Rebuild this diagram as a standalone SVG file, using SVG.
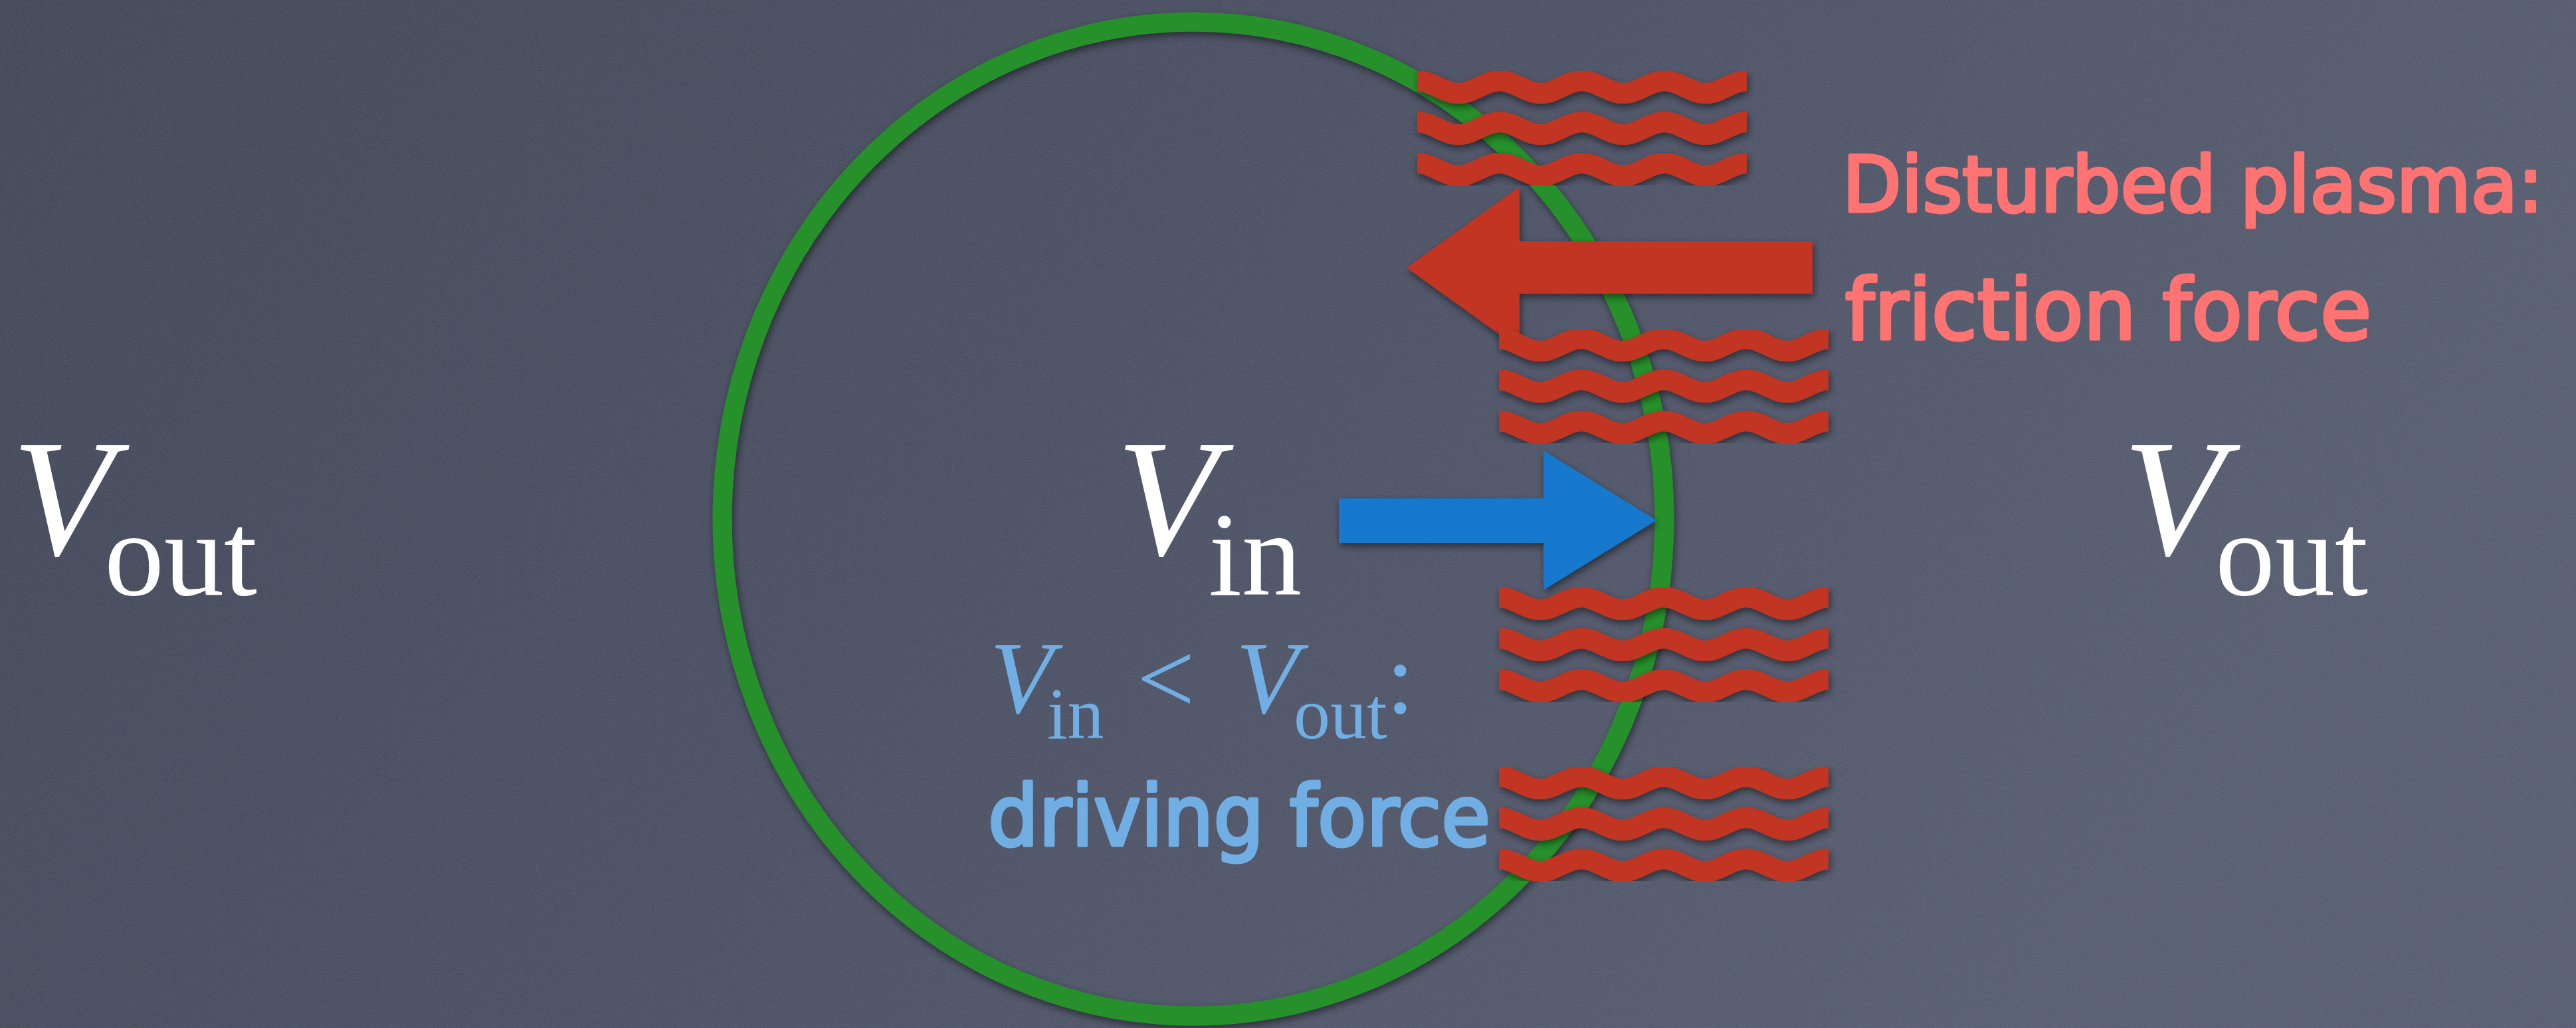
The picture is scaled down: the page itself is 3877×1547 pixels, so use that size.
<svg xmlns="http://www.w3.org/2000/svg" xmlns:xlink="http://www.w3.org/1999/xlink" width="3877" height="1547" viewBox="0 0 3877 1547">
<defs>
<style>
.serif{font-family:"Liberation Serif","Times New Roman",serif;}
.it{font-style:italic;}
.hand{font-family:"DejaVu Sans","Noto Sans",sans-serif;font-size:126px;stroke-width:5;stroke-linejoin:round;}
.white{fill:#ffffff;}
.pink{fill:#FF7373;stroke:#FF7373;}
.lblue{fill:#70AEE4;}
.hand.lblue{stroke:#70AEE4;}
.wave{fill:none;stroke:#C13622;stroke-width:31;stroke-linecap:butt;}
.red{fill:#C13622;}
.blue{fill:#1379CD;}
</style>
<linearGradient id="bg" x1="0" y1="0" x2="1" y2="0.3">
<stop offset="0" stop-color="#414757"/>
<stop offset="0.5" stop-color="#4A5063"/>
<stop offset="1" stop-color="#565D6F"/>
</linearGradient>
<filter id="noise" x="0" y="0" width="100%" height="100%">
<feTurbulence type="fractalNoise" baseFrequency="0.8" numOctaves="2" seed="7" result="t"/>
<feColorMatrix in="t" type="matrix" values="0 0 0 0 1  0 0 0 0 1  0 0 0 0 1  0.4 0 0 0 -0.13"/>
</filter>
<filter id="shadow" x="-10%" y="-10%" width="120%" height="120%">
<feDropShadow dx="2" dy="5" stdDeviation="6" flood-color="#000000" flood-opacity="0.5"/>
</filter>
<path id="wave" class="wave" d="M0,-9.5 c22.6,0 39.4,19 62,19 s39.4,-19 62,-19 s39.4,19 62,19 s39.4,-19 62,-19 s39.4,19 62,19 s39.4,-19 62,-19 s39.4,19 62,19 s39.4,-19 62,-19"/>
</defs>

<rect x="0" y="0" width="3877" height="1547" fill="url(#bg)"/>
<rect x="0" y="0" width="3877" height="1547" fill="#ffffff" filter="url(#noise)" opacity="0.5"/>

<g id="bubble" filter="url(#shadow)">
<ellipse cx="1796" cy="781" rx="709" ry="748" fill="none" stroke="#25912B" stroke-width="29"/>
</g>

<g id="connectors" filter="url(#shadow)">
<polygon id="friction-arrow" class="red" points="2728,363 2287,363 2287,281 2117,403 2287,525 2287,442 2728,442"/>
<polygon id="driving-arrow" class="blue" points="2015,750 2323,750 2323,678 2493,783 2323,888 2323,817 2015,817"/>
</g>

<g id="waves-1" filter="url(#shadow)">
<use xlink:href="#wave" href="#wave" x="2133" y="131"/>
<use xlink:href="#wave" href="#wave" x="2133" y="193"/>
<use xlink:href="#wave" href="#wave" x="2133" y="255"/>
</g>
<g id="waves-2" filter="url(#shadow)">
<use xlink:href="#wave" href="#wave" x="2256" y="519"/>
<use xlink:href="#wave" href="#wave" x="2256" y="581"/>
<use xlink:href="#wave" href="#wave" x="2256" y="643"/>
</g>
<g id="waves-3" filter="url(#shadow)">
<use xlink:href="#wave" href="#wave" x="2256" y="908"/>
<use xlink:href="#wave" href="#wave" x="2256" y="970"/>
<use xlink:href="#wave" href="#wave" x="2256" y="1032"/>
</g>
<g id="waves-4" filter="url(#shadow)">
<use xlink:href="#wave" href="#wave" x="2256" y="1178"/>
<use xlink:href="#wave" href="#wave" x="2256" y="1240"/>
<use xlink:href="#wave" href="#wave" x="2256" y="1302"/>
</g>

<g id="label-vout-left">
<text class="serif white"><tspan class="it" x="18" y="834" font-size="250">V</tspan><tspan x="157" y="895" font-size="180">out</tspan></text>
</g>

<g id="label-vin">
<text class="serif white"><tspan class="it" x="1680" y="834" font-size="250">V</tspan><tspan x="1819" y="895" font-size="180">in</tspan></text>
</g>

<g id="label-vout-right">
<text class="serif white"><tspan class="it" x="3195" y="834" font-size="250">V</tspan><tspan x="3334" y="895" font-size="180">out</tspan></text>
</g>

<g id="label-driving">
<text class="serif lblue"><tspan class="it" x="1490" y="1073" font-size="155">V</tspan><tspan x="1576" y="1111" font-size="110">in</tspan><tspan x="1711" y="1073" font-size="155">&lt;</tspan><tspan class="it" x="1860" y="1073" font-size="155">V</tspan><tspan x="1947" y="1111" font-size="110">out</tspan><tspan x="2086" y="1073" font-size="155">:</tspan></text>
<text class="hand lblue" x="1487" y="1272" textLength="756" lengthAdjust="spacingAndGlyphs">driving force</text>
</g>

<g id="label-friction">
<text class="hand pink" x="2773" y="318" font-size="116" style="font-size:116px" textLength="1055" lengthAdjust="spacingAndGlyphs">Disturbed plasma:</text>
<text class="hand pink" x="2777" y="510" textLength="792" lengthAdjust="spacingAndGlyphs">friction force</text>
</g>
</svg>
